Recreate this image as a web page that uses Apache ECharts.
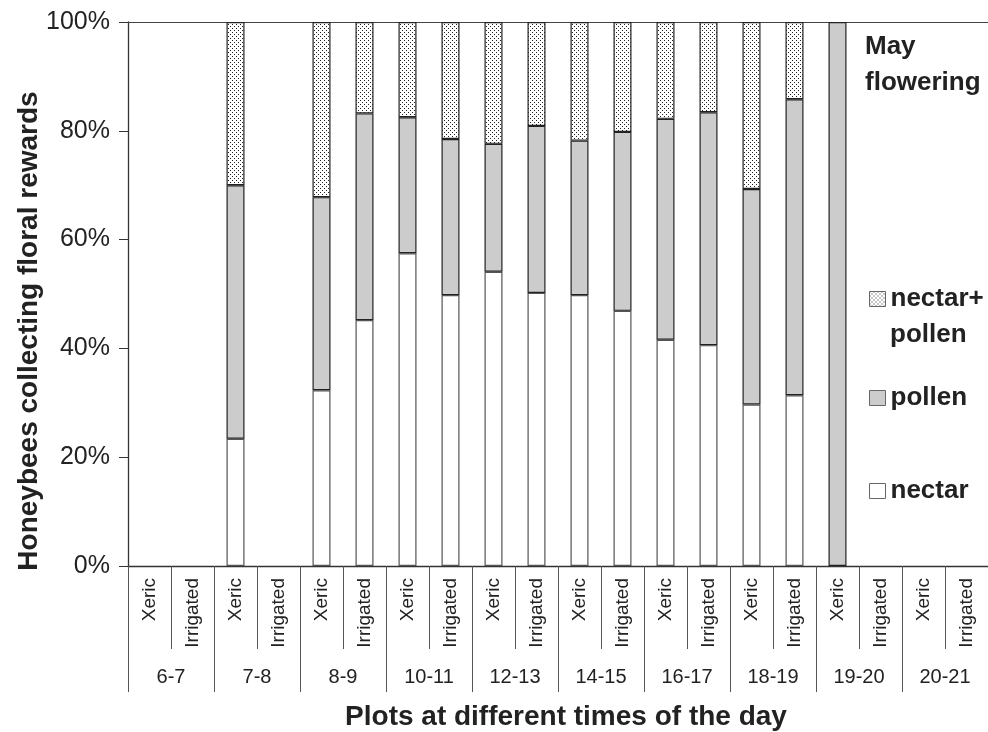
<!DOCTYPE html>
<html>
<head>
<meta charset="utf-8">
<script src="https://cdn.jsdelivr.net/npm/echarts@6/dist/echarts.min.js"></script>
<style>
html,body{margin:0;padding:0;background:#fff;}
#chart{width:988px;height:732px;}
</style>
</head>
<body>
<div id="chart"></div>
<script>
// ---- data ----
var timeGroups = ['6-7','7-8','8-9','10-11','12-13','14-15','16-17','18-19','19-20','20-21'];
var plotTypes = ['Xeric','Irrigated'];
// segment values (%), one per plot (Xeric, Irrigated for each time group); '-' = no bees
var nectar       = ['-','-', 23.4,'-', 32.3,45.2, 57.5,49.8, 54.1,50.2, 49.8,46.9, 41.6,40.6, 29.7,31.4, '-','-', '-','-'];
var pollen       = ['-','-', 46.6,'-', 35.5,38.0, 25.0,28.7, 23.5,30.7, 28.4,32.9, 40.6,42.8, 39.6,54.4, 100,'-', '-','-'];
var nectarPollen = ['-','-', 30.0,'-', 32.2,16.8, 17.5,21.5, 22.4,19.1, 21.8,20.2, 17.8,16.6, 30.7,14.2, '-','-', '-','-'];
var yTicks = [0,20,40,60,80,100];

// categories for the inner axis
var plots = [];
timeGroups.forEach(function(){ plotTypes.forEach(function(p){ plots.push(p); }); });

// dotted pattern
var pc = document.createElement('canvas');
pc.width = 4; pc.height = 4;
var ctx = pc.getContext('2d');
ctx.fillStyle = '#ffffff'; ctx.fillRect(0,0,4,4);
ctx.fillStyle = '#222222';
ctx.fillRect(0,0,1,1);
ctx.fillRect(2,2,1,1);
var dotted = {image: pc, repeat: 'repeat'};

var chart = echarts.init(document.getElementById('chart'), null, {renderer:'canvas'});
var font = '"Liberation Sans", Arial, Helvetica, sans-serif';

var legendText = {fontSize:26, fontWeight:'bold', color:'#222', fontFamily:font, lineHeight:30, padding:[0,0,0,0]};

var option = {
  backgroundColor: '#ffffff',
  animation: false,
  textStyle: {fontFamily: font},
  grid: {left:128, top:22, width:862, height:544},
  xAxis: [
    {
      type:'category', data: plots, position:'bottom',
      axisLine:{show:true, lineStyle:{color:'#333', width:1.3}},
      axisTick:{show:true, interval:0, length:83, lineStyle:{color:'#555', width:1}},
      axisLabel:{interval:0, rotate:90, margin:12, fontSize:19, color:'#222', fontFamily:font},
      splitLine:{show:false}
    },
    {
      type:'category', data: timeGroups, position:'bottom',
      axisLine:{show:false},
      axisTick:{show:true, interval:0, length:126, lineStyle:{color:'#555', width:1}},
      axisLabel:{interval:0, margin:101, fontSize:20, color:'#222', fontFamily:font},
      splitLine:{show:false}
    },
    {
      type:'category', data: timeGroups, position:'top',
      axisLine:{show:true, lineStyle:{color:'#444', width:1}},
      axisTick:{show:false}, axisLabel:{show:false}, splitLine:{show:false}
    }
  ],
  yAxis: {
    type:'value', min:0, max:100, interval:20,
    axisLine:{show:true, lineStyle:{color:'#333', width:1.3}},
    axisTick:{show:true, length:9, lineStyle:{color:'#333', width:1}},
    axisLabel:{margin:18, fontSize:25, color:'#222', fontFamily:font,
      formatter:function(v){ return yTicks.indexOf(v) >= 0 ? v + '%' : ''; }},
    splitLine:{show:false}
  },
  legend: [
    {
      data:['nectar+pollen'], orient:'vertical', left:864, top:279,
      itemWidth:16, itemHeight:15, icon:'rect',
      itemStyle:{borderColor:'#666', borderWidth:1},
      formatter:function(){ return 'nectar+'; },
      textStyle:legendText
    },
    {
      data:['pollen'], orient:'vertical', left:864, top:378,
      itemWidth:16, itemHeight:15, icon:'rect',
      itemStyle:{borderColor:'#666', borderWidth:1},
      textStyle:legendText
    },
    {
      data:['nectar'], orient:'vertical', left:864, top:471,
      itemWidth:16, itemHeight:15, icon:'rect',
      itemStyle:{borderColor:'#666', borderWidth:1},
      textStyle:legendText
    }
  ],
  graphic: [
    {type:'text', x:890, y:335, silent:true,
      style:{text:'pollen', font:'bold 26px ' + font, fill:'#222', align:'left', verticalAlign:'middle'}},
    {type:'text', left:865, top:29, silent:true,
      style:{text:'May\nflowering', font:'bold 26px ' + font, fill:'#222', lineHeight:36}},
    {type:'text', x:29, y:331, rotation:Math.PI/2, silent:true,
      style:{text:'Honeybees collecting floral rewards', font:'bold 28px ' + font, fill:'#222', align:'center', verticalAlign:'middle'}},
    {type:'text', x:566, y:717, silent:true,
      style:{text:'Plots at different times of the day', font:'bold 28px ' + font, fill:'#222', align:'center', verticalAlign:'middle'}}
  ],
  series: [
    {name:'nectar', type:'bar', stack:'r', xAxisIndex:0, barWidth:18, data:nectar,
      itemStyle:{color:'#ffffff', borderColor:'#555', borderWidth:1.2}},
    {name:'pollen', type:'bar', stack:'r', xAxisIndex:0, barWidth:18, data:pollen,
      itemStyle:{color:'#cccccc', borderColor:'#222', borderWidth:1.2}},
    {name:'nectar+pollen', type:'bar', stack:'r', xAxisIndex:0, barWidth:18, data:nectarPollen,
      itemStyle:{color:dotted, borderColor:'#222', borderWidth:1.2}}
  ]
};
chart.setOption(option);
</script>
</body>
</html>
